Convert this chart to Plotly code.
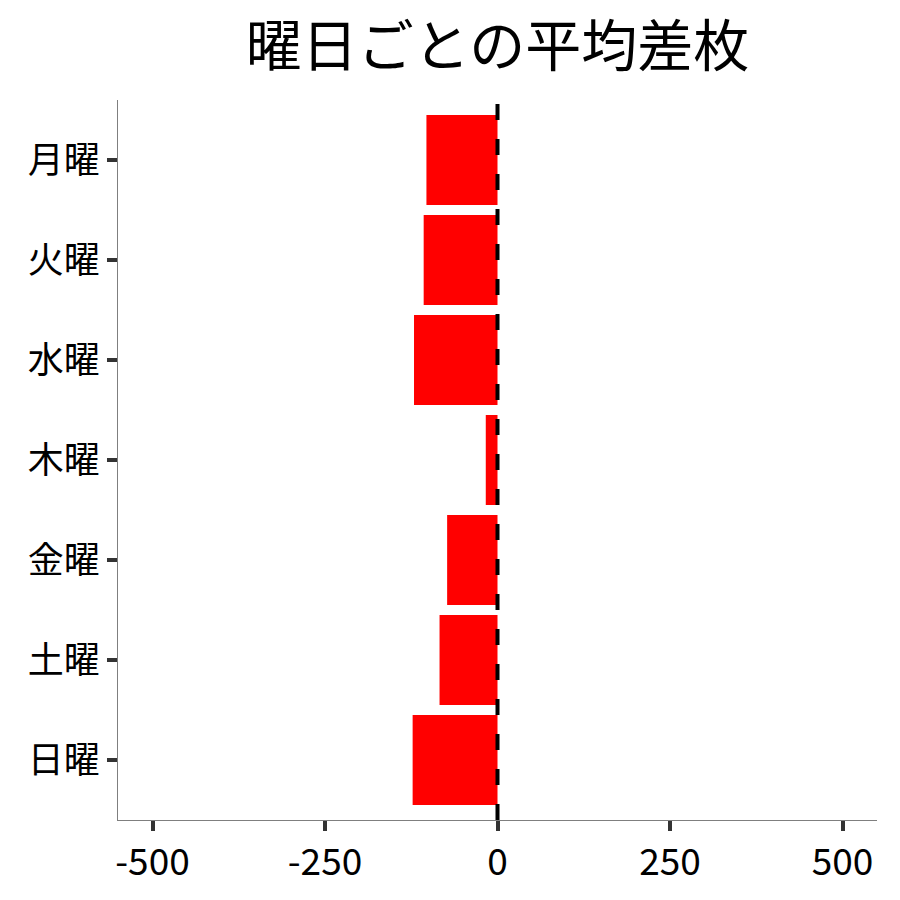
import plotly.graph_objects as go

days = ["月曜", "火曜", "水曜", "木曜", "金曜", "土曜", "日曜"]
avg_diff = [-103, -107, -121, -17, -73, -84, -123]
x_ticks = [-500, -250, 0, 250, 500]
x_tick_labels = ["-500", "-250", "0", "250", "500"]

FONT = "Noto Sans CJK JP"

fig = go.Figure()
fig.add_trace(go.Bar(
    x=avg_diff, y=days, orientation="h",
    marker=dict(color="#FF0000", line=dict(width=0)),
    width=0.9, showlegend=False,
))

fig.add_shape(type="line", xref="x", yref="paper", x0=0, x1=0, y0=0, y1=1,
              line=dict(color="black", width=4, dash="16px,19px"), layer="above")

fig.update_layout(
    width=900, height=900,
    paper_bgcolor="white", plot_bgcolor="white",
    margin=dict(l=110, r=31, t=92, b=88),
    font=dict(family=FONT, color="black"),
    title=dict(text="曜日ごとの平均差枚", font=dict(family=FONT, size=56, color="black"),
               x=0.5, xref="paper", xanchor="center", y=1 - 38 / 900, yref="container",
               yanchor="middle"),
    bargap=0.1,
)
fig.update_xaxes(
    range=[-550, 550], tickvals=x_ticks, ticktext=x_tick_labels,
    showgrid=False, zeroline=False, showline=True, linecolor="#7f7f7f", linewidth=1,
    ticks="outside", ticklen=10, tickwidth=3.5, tickcolor="#333333",
    tickfont=dict(family=FONT, size=37, color="black"),
)
fig.update_yaxes(
    categoryorder="array", categoryarray=days, autorange=False, range=[6.6, -0.6],
    showgrid=False, zeroline=False, showline=True, linecolor="#7f7f7f", linewidth=1,
    ticks="outside", ticklen=10, tickwidth=3.5, tickcolor="#333333",
    tickfont=dict(family=FONT, size=36, color="black"),
)

fig.write_html("out.html")
